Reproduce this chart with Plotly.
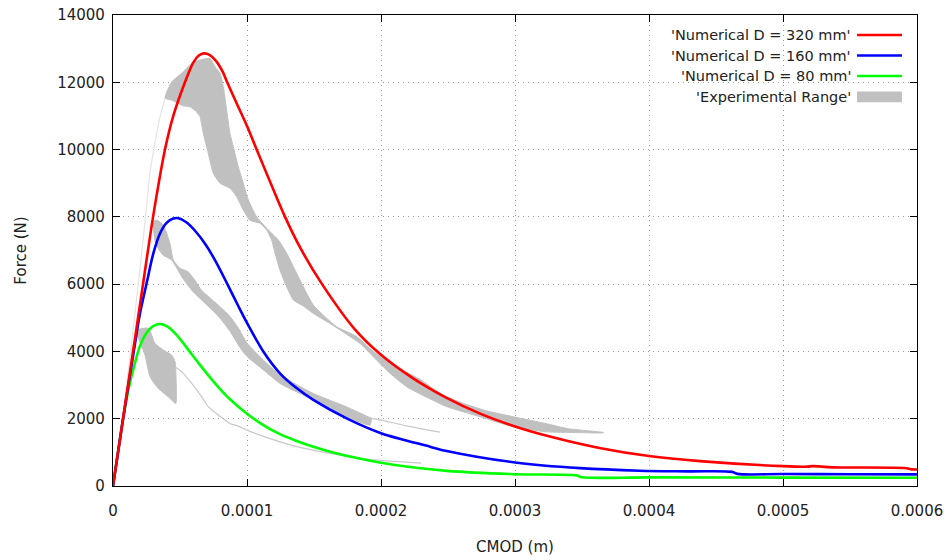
import plotly.graph_objects as go

# CMOD values are listed in units of 1e-4 m, forces in N
SCALE = 1e-4

# Numerical D = 320 mm
red_x = [0, 0.075, 0.15, 0.224, 0.299, 0.388, 0.45, 0.537, 0.60, 0.64, 0.679, 0.72, 0.77,
         0.82, 0.848, 0.92, 1.0, 1.072, 1.18, 1.284, 1.40, 1.56, 1.80, 2.0, 2.24, 2.49,
         2.74, 3.0, 3.26, 3.63, 4.0, 4.38, 5.0, 5.18, 5.22, 5.37, 5.92, 5.96, 6.0]
red_y = [0, 2000, 4000, 6000, 8000, 10000, 11000, 12000, 12590, 12795, 12860, 12815, 12630,
         12300, 12040, 11400, 10700, 10000, 8970, 8000, 7060, 6000, 4680, 3900, 3200, 2620,
         2150, 1770, 1470, 1130, 890, 740, 590, 575, 590, 555, 530, 495, 490]

# Numerical D = 160 mm
blue_x = [0, 0.075, 0.155, 0.20, 0.255, 0.30, 0.35, 0.40, 0.45, 0.488, 0.55, 0.62, 0.687,
          0.77, 0.86, 0.935, 1.0, 1.123, 1.246, 1.37, 1.495, 1.744, 2.0, 2.366, 2.49,
          3.0, 3.485, 3.93, 4.3, 4.62, 4.66, 5.0, 5.5, 6.0]
blue_y = [0, 2000, 4000, 5100, 6100, 6900, 7500, 7820, 7950, 7960, 7830, 7550, 7200,
          6650, 5950, 5350, 4850, 3990, 3350, 2910, 2560, 2010, 1570, 1170, 1040,
          700, 530, 455, 435, 420, 360, 355, 350, 345]

# Numerical D = 80 mm
green_x = [0, 0.077, 0.12, 0.16, 0.20, 0.25, 0.30, 0.351, 0.42, 0.49, 0.575, 0.649, 0.73,
           0.811, 0.873, 1.0, 1.134, 1.246, 1.37, 1.495, 1.65, 1.82, 2.0, 2.2, 2.49, 3.0,
           3.46, 3.50, 4.0, 5.0, 6.0]
green_y = [0, 2030, 2950, 3600, 4150, 4550, 4750, 4815, 4700, 4420, 3980, 3600, 3200,
           2830, 2580, 2150, 1780, 1540, 1340, 1170, 990, 830, 690, 570, 450, 350,
           315, 260, 255, 250, 245]

# Experimental range, D = 320 mm (upper and lower envelope)
exp320_up_x = [0.388, 0.438, 0.522, 0.597, 0.649, 0.724, 0.761, 0.799, 0.823, 0.848, 0.873,
               0.898, 0.935, 0.972, 1.01, 1.072, 1.147, 1.234, 1.296, 1.346, 1.396, 1.445,
               1.50, 1.67, 1.82, 1.943, 2.117, 2.30, 2.46, 2.64, 2.80, 2.987, 3.236, 3.40,
               3.66]
exp320_up_y = [11530, 12010, 12300, 12600, 12660, 12710, 12460, 12270, 11870, 11170, 10480,
               10080, 9490, 9000, 8500, 8000, 7660, 7310, 6920, 6520, 6120, 5730,
               5350, 4730, 4440, 4000, 3540, 3150, 2700, 2420, 2220, 2060, 1850, 1700,
               1590]
exp320_lo_x = [0.388, 0.438, 0.522, 0.575, 0.624, 0.649, 0.674, 0.711, 0.749, 0.799, 0.873,
               0.923, 0.973, 1.022, 1.097, 1.147, 1.184, 1.209, 1.246, 1.296, 1.346, 1.42,
               1.495, 1.62, 1.843, 1.943, 2.067, 2.192, 2.30, 2.49, 2.74, 2.987, 3.236,
               3.45, 3.66]
exp320_lo_y = [11530, 11470, 11300, 11270, 11120, 10980, 10480, 9890, 9290, 9000, 8850,
               8600, 8200, 7900, 7810, 7610, 7310, 6920, 6420, 5920, 5530, 5350,
               5130, 4830, 4240, 3840, 3350, 2950, 2720, 2360, 2060, 1760, 1610,
               1590, 1580]

# Experimental range, D = 160 mm
exp160_up_x = [0.30, 0.33, 0.375, 0.425, 0.45, 0.50, 0.56, 0.61, 0.66, 0.75, 0.86, 0.935,
               1.0, 1.123, 1.246, 1.495, 1.744, 1.93]
exp160_up_y = [7870, 7900, 7760, 7210, 6720, 6470, 6370, 6120, 5820, 5500, 5100, 4700,
               4250, 3740, 3300, 2750, 2350, 2010]
exp160_lo_x = [0.30, 0.313, 0.338, 0.375, 0.438, 0.513, 0.587, 0.687, 0.786, 0.873, 0.95,
               1.0, 1.123, 1.246, 1.495, 1.744, 1.918, 1.93]
exp160_lo_y = [7870, 7300, 7060, 6860, 6720, 6220, 5820, 5430, 5050, 4600, 4100,
               3850, 3450, 3050, 2560, 2060, 1810, 2010]

# Experimental range, D = 80 mm
exp80_up_x = [0.175, 0.264, 0.313, 0.376, 0.438, 0.463, 0.47]
exp80_up_y = [4620, 4690, 4240, 4040, 3890, 3690, 2460]
exp80_lo_x = [0.175, 0.239, 0.276, 0.338, 0.413, 0.463]
exp80_lo_y = [4620, 3890, 3250, 2900, 2650, 2460]

# Single experimental curves outside the shaded ranges
thin320_x = [0, 0.04, 0.08, 0.12, 0.16, 0.20, 0.24, 0.276, 0.313, 0.35, 0.388]
thin320_y = [0, 1100, 2300, 3600, 5000, 6400, 7900, 9300, 10200, 10950, 11530]
thin160_x = [0, 0.10, 0.20, 0.26, 0.30]
thin160_y = [0, 2600, 5200, 6900, 7870]
thin160_tail_x = [1.93, 2.0, 2.2, 2.44]
thin160_tail_y = [2010, 1960, 1780, 1600]
thin80_x = [0, 0.08, 0.14, 0.175]
thin80_y = [0, 2300, 4000, 4620]
thin80_tail_x = [0.463, 0.513, 0.587, 0.662, 0.711, 0.786, 0.873, 0.935, 1.0, 1.134, 1.37,
                 1.62, 1.82, 2.0, 2.3]
thin80_tail_y = [3540, 3400, 3050, 2650, 2360, 2110, 1860, 1780, 1660, 1460, 1170,
                 970, 840, 760, 680]

x_ticks = [0, 0.0001, 0.0002, 0.0003, 0.0004, 0.0005, 0.0006]
x_tick_text = ["0", "0.0001", "0.0002", "0.0003", "0.0004", "0.0005", "0.0006"]
y_ticks = [0, 2000, 4000, 6000, 8000, 10000, 12000, 14000]
y_tick_text = ["0", "2000", "4000", "6000", "8000", "10000", "12000", "14000"]

legend_labels = ["'Numerical D = 320 mm'", "'Numerical D = 160 mm'",
                 "'Numerical D = 80 mm'", "'Experimental Range'"]

RED, BLUE, GREEN = "#ff0000", "#0000ff", "#00ff00"
BAND = "#c0c0c0"
THIN_TAIL = "#c8c8c8"
THIN_RISE = "#e4e4e4"
FONT = "DejaVu Sans"
TEXT = "#222222"


def sx(vals):
    return [v * SCALE for v in vals]


fig = go.Figure()

# shaded experimental ranges
for ux, uy, lx, ly in [(exp320_up_x, exp320_up_y, exp320_lo_x, exp320_lo_y),
                       (exp160_up_x, exp160_up_y, exp160_lo_x, exp160_lo_y),
                       (exp80_up_x, exp80_up_y, exp80_lo_x, exp80_lo_y)]:
    fig.add_trace(go.Scatter(
        x=sx(ux + lx[::-1]), y=uy + ly[::-1], mode="lines", fill="toself",
        fillcolor=BAND, line=dict(color=BAND, width=1, shape="spline", smoothing=0.5),
        hoverinfo="skip", showlegend=False))

for tx, ty, col in [(thin320_x, thin320_y, THIN_RISE), (thin160_x, thin160_y, THIN_RISE),
                    (thin80_x, thin80_y, THIN_RISE),
                    (thin160_tail_x, thin160_tail_y, THIN_TAIL),
                    (thin80_tail_x, thin80_tail_y, THIN_TAIL)]:
    fig.add_trace(go.Scatter(x=sx(tx), y=ty, mode="lines",
                             line=dict(color=col, width=1.2, shape="spline", smoothing=0.6),
                             hoverinfo="skip", showlegend=False))

for cx, cy, col in [(green_x, green_y, GREEN), (blue_x, blue_y, BLUE), (red_x, red_y, RED)]:
    fig.add_trace(go.Scatter(x=sx(cx), y=cy, mode="lines",
                             line=dict(color=col, width=2.6, shape="spline", smoothing=0.9),
                             showlegend=False))

# key drawn inside the plot box: text on the left, sample on the right
shapes = [dict(type="rect", xref="paper", yref="paper", x0=0.68, x1=0.985,
               y0=0.805, y1=0.979, fillcolor="white", line=dict(width=0), layer="below")]
rows_y = [0.9575, 0.914, 0.8705, 0.826]
annotations = []
for label, ry, col in zip(legend_labels, rows_y, [RED, BLUE, GREEN, None]):
    annotations.append(dict(xref="paper", yref="paper", x=0.9205, y=ry, text=label,
                            showarrow=False, xanchor="right", yanchor="middle",
                            font=dict(family=FONT, size=14.5, color=TEXT)))
    if col:
        shapes.append(dict(type="line", xref="paper", yref="paper", x0=0.9254, x1=0.9813,
                           y0=ry, y1=ry, line=dict(color=col, width=2.6), layer="above"))
    else:
        shapes.append(dict(type="rect", xref="paper", yref="paper", x0=0.9254, x1=0.9813,
                           y0=ry - 0.0115, y1=ry + 0.0115, fillcolor=BAND,
                           line=dict(width=0), layer="above"))

axis_common = dict(showline=True, linecolor="black", linewidth=1.3, mirror="ticks",
                   ticks="inside", ticklen=7, tickcolor="black", tickwidth=1.3,
                   showgrid=True, gridcolor="#9a9a9a", gridwidth=1, griddash="1px,4px",
                   zeroline=False, automargin=False,
                   tickfont=dict(family=FONT, size=15, color=TEXT))

fig.update_layout(
    width=952, height=560,
    margin=dict(l=113, r=35, t=15, b=74),
    paper_bgcolor="white", plot_bgcolor="white",
    showlegend=False,
    shapes=shapes, annotations=annotations,
    xaxis=dict(range=[0, 0.0006], tickvals=x_ticks, ticktext=x_tick_text,
               ticklabelstandoff=11,
               title=dict(text="CMOD (m)", standoff=22,
                          font=dict(family=FONT, size=15, color=TEXT)),
               **axis_common),
    yaxis=dict(range=[0, 14000], tickvals=y_ticks, ticktext=y_tick_text,
               ticklabelstandoff=4,
               title=dict(text="Force (N)", standoff=26,
                          font=dict(family=FONT, size=15, color=TEXT)),
               **axis_common),
)

fig.write_html("out.html")
